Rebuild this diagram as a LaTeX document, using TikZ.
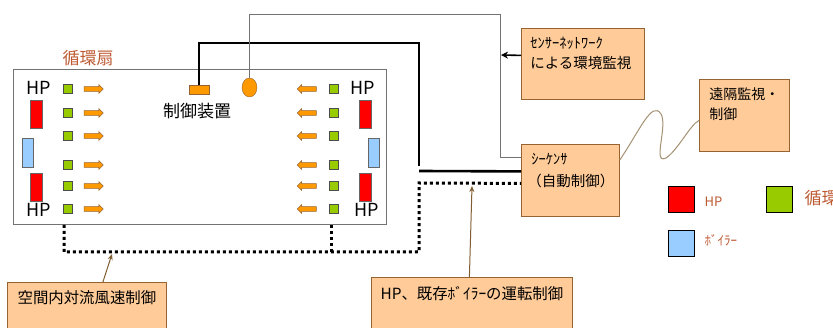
\documentclass[tikz,border=0pt]{standalone}
\usepackage{fontspec}
\setmainfont{Noto Sans CJK JP}
\usetikzlibrary{shapes.geometric,shapes.arrows,arrows.meta}
\definecolor{boxfill}{RGB}{255,204,153}
\definecolor{boxline}{RGB}{150,100,50}
\definecolor{fanorange}{RGB}{255,153,0}
\definecolor{fangreen}{RGB}{153,204,0}
\definecolor{boilerblue}{RGB}{153,204,255}
\definecolor{labelbrown}{RGB}{190,90,50}
\definecolor{wire}{RGB}{165,145,115}
\definecolor{pointer}{RGB}{130,95,50}
\tikzset{
  callout/.style={draw=boxline,fill=boxfill,line width=0.8pt,anchor=north west},
  fanunit/.style={draw=black!70,fill=fangreen,minimum size=9pt,inner sep=0pt},
  airflow/.style={single arrow,draw=boxline,fill=fanorange,minimum height=19pt,
    inner sep=2.2pt,single arrow head extend=2pt,line width=0.5pt},
  hpunit/.style={draw=black!60,fill=red,minimum width=12pt,minimum height=28pt,inner sep=0pt},
  boilerunit/.style={draw=black!60,fill=boilerblue,minimum width=11pt,minimum height=29pt,inner sep=0pt},
  hptext/.style={font=\fontsize{18}{18}\selectfont},
  legendbox/.style={draw=black,line width=0.9pt,minimum size=26pt,inner sep=0pt},
  legendtext/.style={text=labelbrown,anchor=west,font=\fontsize{13}{13}\selectfont},
  busline/.style={line width=2.6pt,black},
  sensline/.style={line width=1pt,black!55},
  ctrlline/.style={line width=3pt,dash pattern=on 3pt off 3pt},
  pointarrow/.style={pointer,line width=1pt,-{Stealth[length=6pt,width=5pt]}}
}
\begin{document}
\begin{tikzpicture}[x=1pt,y=-1pt]
        \useasboundingbox (0,0) rectangle (833,328);
        \fill[white] (0,0) rectangle (833,328);
        %% room with fans
        \node[draw=black!55,fill=white,line width=0.9pt,minimum width=373pt,minimum height=155pt,
          anchor=north west,inner sep=0pt] (room) at (13,69) {};
        \node[text=labelbrown,font=\fontsize{17}{17}\selectfont] (fanlabel) at (88,58) {循環扇};
        \foreach \y [count=\i] in {89,113,136,165,186,209} {
          \node[fanunit] (gl\i) at (67.5,\y) {};
          \node[airflow] (al\i) at (92.5,\y) {};
          \node[airflow,shape border rotate=180] (ar\i) at (308,\y) {};
          \node[fanunit] (gr\i) at (333.5,\y) {};
        }
        %% HP and boilers
        \node[hptext] (hptl) at (39,88) {HP};
        \node[hpunit] (hpl1) at (36,114) {};
        \node[boilerunit] (bol) at (27.5,152.5) {};
        \node[hpunit] (hpl2) at (36,187.5) {};
        \node[hptext] (hpbl) at (39,210) {HP};
        \node[hptext] (hptr) at (363,88) {HP};
        \node[hpunit] (hpr1) at (365,114) {};
        \node[boilerunit] (bor) at (373.5,152.5) {};
        \node[hpunit] (hpr2) at (365,187.5) {};
        \node[hptext] (hpbr) at (367,210) {HP};
        %% controller and sensor
        \node[draw=boxline,fill=fanorange,minimum width=20pt,minimum height=9pt,inner sep=0pt] (unit) at (199,89.5) {};
        \node[font=\fontsize{17}{17}\selectfont] (unitlabel) at (197,111) {制御装置};
        \node[ellipse,draw=boxline,fill=fanorange,minimum width=15pt,minimum height=19pt,inner sep=0pt] (sensor) at (249.5,87.5) {};
        %% boxes
        \node[callout,inner xsep=9pt,inner ysep=9pt] (net) at (521,28)
          {\parbox[t][53pt][t]{105pt}{\fontsize{14.5}{20}\selectfont ｾﾝｻｰﾈｯﾄﾜｰｸ\\による環境監視}};
        \node[callout,inner xsep=6pt,inner ysep=8.5pt] (seq) at (521,144)
          {\parbox[t][55pt][t]{86pt}{\fontsize{14.5}{22}\selectfont \hspace*{4pt}ｼｰｹﾝｻ\\（自動制御）}};
        \node[callout,inner xsep=10pt,inner ysep=8.5pt] (remote) at (699,79)
          {\parbox[t][55pt][t]{70pt}{\fontsize{14}{20}\selectfont 遠隔監視・\\制御}};
        \node[callout,inner xsep=5pt,inner ysep=8pt] (flowctrl) at (7,282)
          {\parbox[t][54pt][t]{149pt}{\centering\fontsize{15.4}{20}\selectfont 空間内対流風速制御}};
        \node[callout,inner xsep=5pt,inner ysep=8.5pt] (runctrl) at (371,277)
          {\parbox[t][53pt][t]{191pt}{\centering\fontsize{15.4}{20}\selectfont HP、既存ﾎﾞｲﾗｰの運転制御}};
        %% wiring
        \coordinate (busbend) at (419,166);
        \draw[busline] (unit.north) |- (419,43) -- (busbend);
        \draw[busline] (419,171) -- ([yshift=9pt]seq.west);
        \draw[sensline] (sensor.north) |- (500,15) |- ([yshift=23pt]seq.west);
        \draw[black,line width=1.6pt,-{Stealth[length=7pt,width=7pt]}] ([yshift=8.5pt]net.west) -- (501,55);
        \draw[ctrlline] ([xshift=51pt]room.south west) -- (64,252) -| (419,183) -- ([yshift=-3pt]seq.west);
        \draw[ctrlline] ([xshift=318pt]room.south west) -- (331,252);
        \coordinate (flowtip) at (112,254);
        \coordinate (runtip) at (472,186);
        \draw[pointarrow] ([xshift=16pt]flowctrl.north) -- (flowtip);
        \draw[pointarrow] ([xshift=-2.5pt]runctrl.north) -- (runtip);
        \draw[wire,line width=1pt] ([yshift=-16pt]seq.north east)
          .. controls (640,130) and (652,100) .. (661,114)
          .. controls (668,126) and (652,165) .. (666,158)
          .. controls (678,150) and (690,125) .. ([yshift=-5pt]remote.west);
        %% legend
        \node[legendbox,fill=red] (lhp) at (681,199.5) {};
        \node[legendtext] (lhptext) at (701,202) {HP};
        \node[legendbox,fill=fangreen] (lfan) at (779,199) {};
        \node[legendtext,font=\fontsize{17}{17}\selectfont] (lfantext) at (801,198) {循環扇};
        \node[legendbox,fill=boilerblue] (lbo) at (681,243) {};
        \node[legendtext] (lbotext) at (701,240) {ﾎﾞｲﾗｰ};
    \end{tikzpicture}
\end{document}
